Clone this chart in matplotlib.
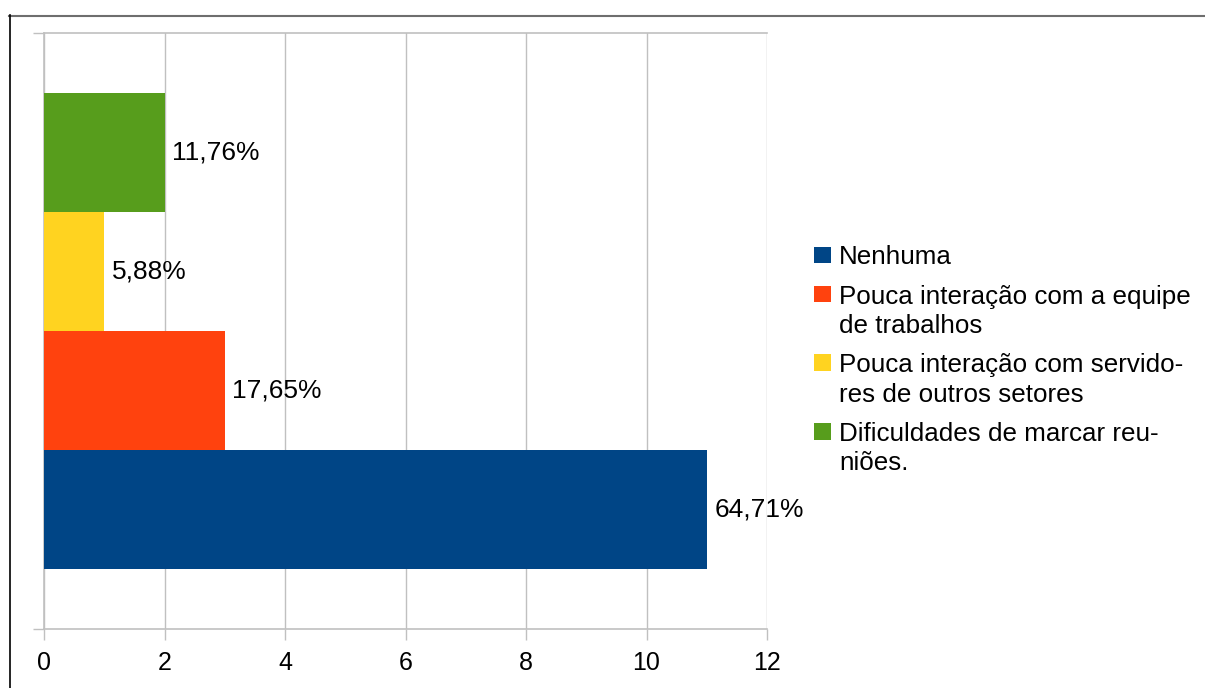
import matplotlib.pyplot as plt
from matplotlib.lines import Line2D
from matplotlib.patches import Rectangle

plt.rcParams['font.family'] = ['Liberation Sans', 'DejaVu Sans']

series = ['Nenhuma',
          'Pouca interação com a equipe\nde trabalhos',
          'Pouca interação com servido-\nres de outros setores',
          'Dificuldades de marcar reu-\nniões.']
counts = [11, 3, 1, 2]
pct_labels = ['64,71%', '17,65%', '5,88%', '11,76%']
colors = ['#004586', '#ff420e', '#ffd320', '#579d1c']
xticks = [0, 2, 4, 6, 8, 10, 12]

W, H = 1205, 688
fig = plt.figure(figsize=(W / 100, H / 100), dpi=100)

# outer frame (only top and left edges visible)
fig.add_artist(Line2D([9 / W, 1], [1 - 15.5 / H, 1 - 15.5 / H], color='#6e6e6e', lw=1.5))
fig.add_artist(Line2D([9.5 / W, 9.5 / W], [0, 1 - 15 / H], color='#000000', lw=1.2))

ax = fig.add_axes([44 / W, 1 - 629 / H, (767 - 44) / W, (629 - 33) / H])
grid_c = '#c0c0c0'

for i, (v, c) in enumerate(zip(counts, colors)):
    b = ax.barh(i, v, height=1.0, color=c, zorder=3)
    ax.bar_label(b, labels=[pct_labels[i]], padding=5.5, fontsize=19, zorder=4)

ax.set_xlim(0, 12)
ax.set_ylim(-1, 4)
ax.set_xticks(xticks)
ax.set_xticklabels([str(t) for t in xticks], fontsize=18)
ax.set_yticks([-1, 4])
ax.set_yticklabels([])
ax.tick_params(axis='both', direction='out', length=8, width=1, color=grid_c, pad=8)
ax.grid(axis='x', color=grid_c, lw=1, zorder=0)
for s in ['top', 'bottom', 'left']:
    ax.spines[s].set_color(grid_c)
    ax.spines[s].set_linewidth(1.2)
ax.spines['right'].set_visible(False)

# legend, drawn by hand so the swatch lines up with the first text line
line_h = 29.3
gap = 10
y = 255
for lab, c in zip(series, colors):
    fig.add_artist(Rectangle((814 / W, 1 - (y + 8) / H), 16.5 / W, 16.5 / H,
                             facecolor=c, edgecolor='none', transform=fig.transFigure))
    lines = lab.split('\n')
    for k, ln in enumerate(lines):
        fig.text(839 / W, 1 - (y + k * line_h) / H, ln, fontsize=18.75,
                 va='center_baseline', ha='left')
    y += len(lines) * line_h + gap

fig.savefig('out.png', dpi=100)
